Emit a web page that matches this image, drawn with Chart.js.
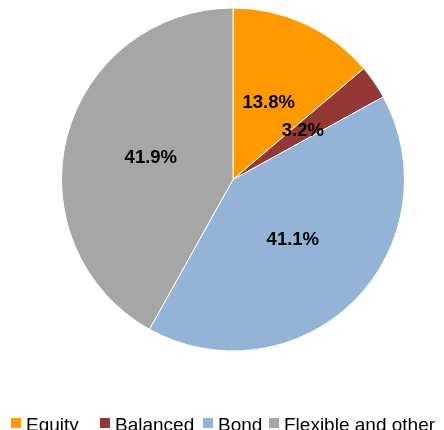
<!DOCTYPE html>
<html>
<head>
<meta charset="utf-8">
<script src="https://cdn.jsdelivr.net/npm/chart.js@4/dist/chart.umd.min.js"></script>
<style>
  html, body { margin: 0; padding: 0; background: #fff; }
  #wrap { width: 444px; height: 430px; position: relative; }
</style>
</head>
<body>
<div id="wrap"><canvas id="pieChart"></canvas></div>
<script>
// data
const categories = ['Equity', 'Balanced', 'Bond', 'Flexible and other'];
const shares = [13.8, 3.2, 41.1, 41.9];
const sliceLabels = ['13.8%', '3.2%', '41.1%', '41.9%'];
const sliceColors = ['#FF9900', '#953735', '#95B3D7', '#A6A6A6'];

// legend item x positions (style only)
const legendX = [11, 100, 203, 269];

const FONT = '"Liberation Sans", Arial, sans-serif';

// percent labels inside the slices
const sliceLabelPlugin = {
  id: 'sliceLabels',
  afterDatasetsDraw(chart) {
    const ctx = chart.ctx;
    const meta = chart.getDatasetMeta(0);
    ctx.save();
    ctx.font = 'bold 18.5px ' + FONT;
    ctx.fillStyle = '#000';
    ctx.textAlign = 'center';
    ctx.textBaseline = 'middle';
    meta.data.forEach((arc, i) => {
      const p = arc.getProps(['x', 'y', 'startAngle', 'endAngle', 'outerRadius'], true);
      const mid = (p.startAngle + p.endAngle) / 2;
      const r = p.outerRadius * 0.495;
      ctx.fillText(sliceLabels[i], p.x + Math.cos(mid) * r, p.y + Math.sin(mid) * r);
    });
    ctx.restore();
  }
};

// legend along the bottom
const bottomLegendPlugin = {
  id: 'bottomLegend',
  afterDraw(chart) {
    const ctx = chart.ctx;
    ctx.save();
    ctx.font = '19px ' + FONT;
    ctx.textBaseline = 'alphabetic';
    ctx.textAlign = 'left';
    categories.forEach((name, i) => {
      const x = legendX[i];
      ctx.fillStyle = sliceColors[i];
      ctx.fillRect(x, 418, 10, 10);
      ctx.fillStyle = '#000';
      ctx.fillText(name, x + 15, 431);
    });
    ctx.restore();
  }
};

new Chart(document.getElementById('pieChart').getContext('2d'), {
  type: 'pie',
  data: {
    labels: categories,
    datasets: [{
      data: shares,
      backgroundColor: sliceColors,
      borderColor: '#ffffff',
      borderWidth: 1,
      hoverOffset: 0
    }]
  },
  options: {
    responsive: true,
    maintainAspectRatio: false,
    animation: false,
    layout: { padding: { top: 7.5, left: 61, right: 39, bottom: 78.5 } },
    plugins: {
      legend: { display: false },
      tooltip: { enabled: false }
    }
  },
  plugins: [sliceLabelPlugin, bottomLegendPlugin]
});
</script>
</body>
</html>
